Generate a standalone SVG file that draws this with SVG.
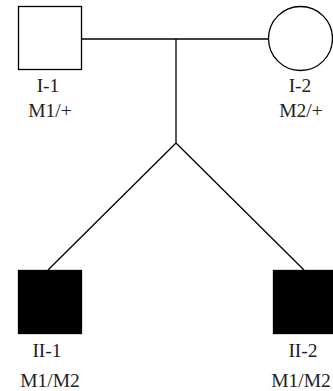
<svg xmlns="http://www.w3.org/2000/svg" width="333" height="391" viewBox="0 0 333 391">
<style>
.ln{fill:none;stroke:#000;stroke-width:1.3}
.open{fill:#fff;stroke:#000;stroke-width:1.3}
.aff{fill:#000;stroke:#000;stroke-width:1.3}
text{font-family:"Liberation Serif",serif;font-size:19.5px;fill:#222;text-anchor:middle}
</style>
<rect width="333" height="391" fill="#fff"/>
<g id="connectors">
<line class="ln" x1="81" y1="39" x2="268" y2="39"/>
<line class="ln" x1="176" y1="39" x2="176" y2="143"/>
<line class="ln" x1="176" y1="143" x2="48" y2="270"/>
<line class="ln" x1="176" y1="143" x2="304" y2="270"/>
</g>
<g id="I-1">
<rect class="open" x="18.5" y="6.5" width="63" height="63"/>
<text x="48" y="92">I-1</text>
<text x="50" y="117">M1/+</text>
</g>
<g id="I-2">
<circle class="open" cx="300.5" cy="38.5" r="32"/>
<text x="300" y="92">I-2</text>
<text x="301" y="117">M2/+</text>
</g>
<g id="II-1">
<rect class="aff" x="18.5" y="270.5" width="63" height="63"/>
<text x="47" y="357">II-1</text>
<text x="50" y="387">M1/M2</text>
</g>
<g id="II-2">
<rect class="aff" x="273.5" y="270.5" width="63" height="63"/>
<text x="303" y="357">II-2</text>
<text x="301" y="387">M1/M2</text>
</g>
</svg>
